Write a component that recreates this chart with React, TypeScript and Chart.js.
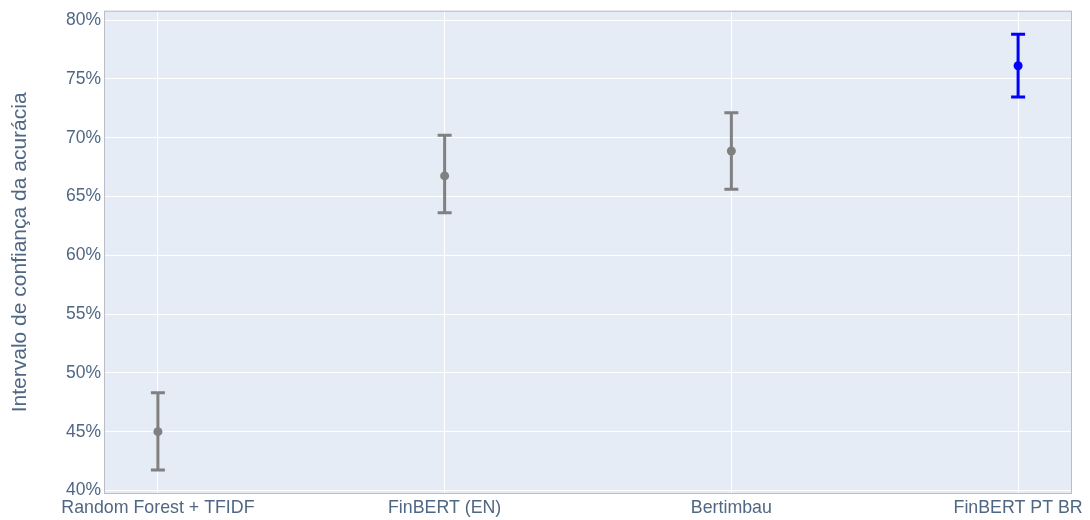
import React, { useEffect, useRef } from "react";
import { Chart, registerables } from "chart.js";

Chart.register(...registerables);

const categories = ["Random Forest + TFIDF", "FinBERT (EN)", "Bertimbau", "FinBERT PT BR"];
const accuracy = [45.0, 66.75, 68.87, 76.12];
const lowerBound = [41.74, 63.62, 65.61, 73.46];
const upperBound = [48.32, 70.2, 72.13, 78.79];
const colors = ["#808080", "#808080", "#808080", "#0000ff"];
const yTicks = [40, 45, 50, 55, 60, 65, 70, 75, 80];

const FONT = "'Liberation Sans', Arial, sans-serif";

const errorBars = {
  id: "errorBars",
  afterDatasetsDraw(chart: any) {
    const { ctx, scales } = chart;
    const xs = scales.x;
    const ys = scales.y;
    ctx.save();
    categories.forEach((_, i) => {
      const x = xs.getPixelForValue(i);
      const yl = ys.getPixelForValue(lowerBound[i]);
      const yh = ys.getPixelForValue(upperBound[i]);
      ctx.strokeStyle = colors[i];
      ctx.lineWidth = 3;
      ctx.beginPath();
      ctx.moveTo(x, yl);
      ctx.lineTo(x, yh);
      ctx.moveTo(x - 7, yl);
      ctx.lineTo(x + 7, yl);
      ctx.moveTo(x - 7, yh);
      ctx.lineTo(x + 7, yh);
      ctx.stroke();
      const yc = ys.getPixelForValue(accuracy[i]);
      ctx.fillStyle = colors[i];
      ctx.beginPath();
      ctx.arc(x, yc, 4.5, 0, Math.PI * 2);
      ctx.fill();
    });
    ctx.restore();
  },
};

const plotBg = {
  id: "plotBg",
  beforeDraw(chart: any) {
    const { ctx, chartArea: a } = chart;
    ctx.save();
    ctx.fillStyle = "#E5ECF6";
    ctx.fillRect(a.left, a.top, a.right - a.left, a.bottom - a.top);
    ctx.restore();
  },
  afterDraw(chart: any) {
    const { ctx, chartArea: a } = chart;
    ctx.save();
    ctx.strokeStyle = "#b9bdc7";
    ctx.lineWidth = 1;
    ctx.strokeRect(a.left + 0.5, a.top + 0.5, a.right - a.left - 1, a.bottom - a.top - 1);
    ctx.restore();
  },
};

export default function App() {
  const ref = useRef<HTMLCanvasElement>(null);
  useEffect(() => {
    document.body.style.margin = "0";
    const chart = new Chart(ref.current!, {
      type: "scatter",
      data: {
        datasets: [
          {
            data: accuracy.map((v, i) => ({ x: i, y: v })),
            pointRadius: 0,
            pointHoverRadius: 0,
            backgroundColor: colors,
            borderColor: colors,
          },
        ],
      },
      options: {
        animation: false,
        responsive: false,
        layout: { padding: { top: 0, right: 18, left: 0, bottom: 0 } },
        plugins: { legend: { display: false }, tooltip: { enabled: false } },
        scales: {
          x: {
            type: "linear",
            min: -0.188,
            max: 3.188,
            afterBuildTicks(s: any) {
              s.ticks = categories.map((_, i) => ({ value: i }));
            },
            afterFit(s: any) {
              s.height = 26;
              s.paddingLeft = 0;
              s.paddingRight = 0;
            },
            ticks: {
              callback: (v: any) => categories[v] ?? "",
              color: "#506784",
              font: { family: FONT, size: 17.8 },
              padding: 3,
              maxRotation: 0,
              autoSkip: false,
            },
            grid: { color: "#ffffff", lineWidth: 1, drawTicks: false },
            border: { display: false },
          },
          y: {
            type: "linear",
            min: 39.7,
            max: 80.8,
            afterBuildTicks(s: any) {
              s.ticks = yTicks.map((v) => ({ value: v }));
            },
            afterFit(s: any) {
              s.width = 104;
              s.paddingTop = 10.7;
              s.paddingBottom = 0;
            },
            ticks: {
              callback: (v: any) => v + "%",
              color: "#506784",
              font: { family: FONT, size: 17.5 },
              padding: 3,
            },
            grid: { color: "#ffffff", lineWidth: 1, drawTicks: false },
            border: { display: false },
            title: {
              display: true,
              text: "Intervalo de confiança da acurácia",
              color: "#506784",
              font: { family: FONT, size: 21 },
              padding: { top: 8, bottom: 0 },
            },
          },
        },
      },
      plugins: [plotBg, errorBars],
    });
    return () => chart.destroy();
  }, []);
  return <canvas ref={ref} width={1090} height={520} style={{ display: "block" }} />;
}
